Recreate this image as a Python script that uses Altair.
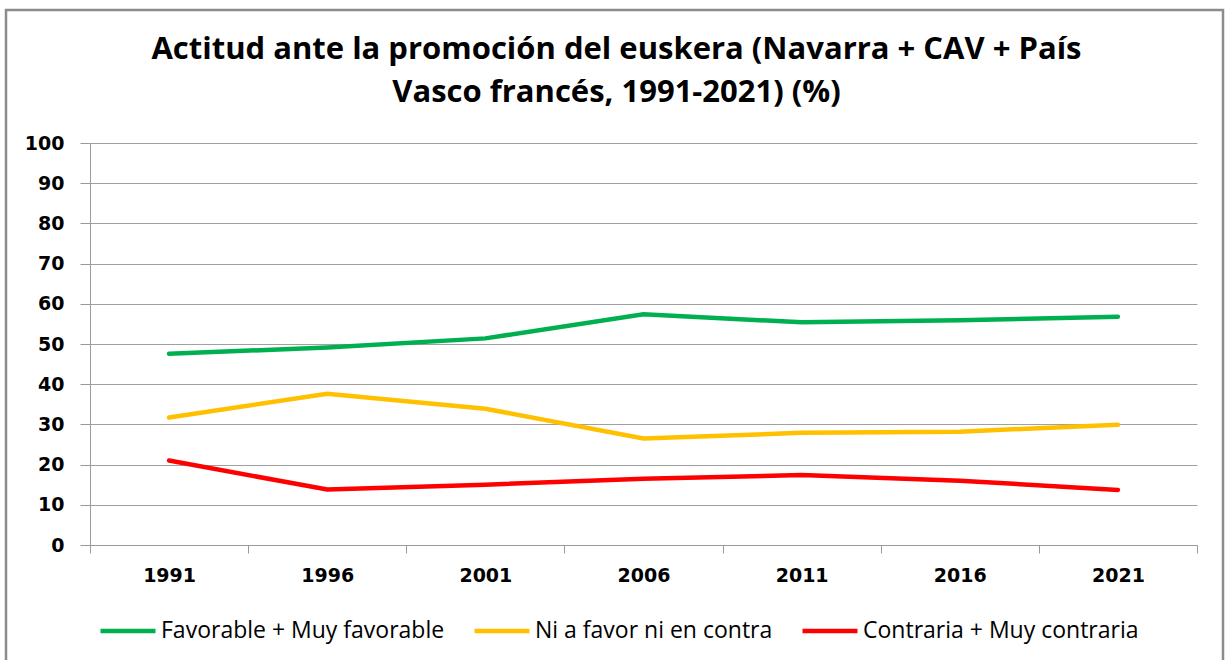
import altair as alt
import pandas as pd

years = ["1991", "1996", "2001", "2006", "2011", "2016", "2021"]
series_names = ["Favorable + Muy favorable", "Ni a favor ni en contra", "Contraria + Muy contraria"]
favorable = [47.6, 49.1, 51.4, 57.4, 55.4, 55.9, 56.8]
neutral = [31.7, 37.6, 33.9, 26.5, 27.9, 28.2, 29.9]
contraria = [21.0, 13.8, 15.0, 16.5, 17.4, 16.0, 13.7]
colors = ["#00B050", "#FFC000", "#FF0000"]
title_lines = ["Actitud ante la promoción del euskera (Navarra + CAV + País",
               "Vasco francés, 1991-2021) (%)"]

rows = []
for name, vals in zip(series_names, [favorable, neutral, contraria]):
    for y, v in zip(years, vals):
        rows.append({"Año": y, "Serie": name, "Valor": v})
df = pd.DataFrame(rows)

W, H = 1107, 402
PAD_L, PAD_T = 90, 143

frame = alt.Chart(alt.Data(values=[{}])).mark_rect(
    fill=None, stroke="#8c8c8c", strokeWidth=2.5
).encode(
    x=alt.value(6 - PAD_L), x2=alt.value(1223 - PAD_L),
    y=alt.value(10 - PAD_T), y2=alt.value(700 - PAD_T),
)

lines = alt.Chart(df).mark_line(strokeWidth=4.5, strokeCap="round").encode(
    x=alt.X("Año:O", sort=years, bandPosition=0.5,
            scale=alt.Scale(type="band", paddingInner=0, paddingOuter=0),
            axis=alt.Axis(title=None, labelAngle=0, tickBand="extent", grid=False,
                          tickSize=8, labelPadding=13, domainColor="#9a9a9a",
                          tickColor="#9a9a9a", labelFont="DejaVu Sans",
                          labelFontWeight="bold", labelFontSize=19, labelColor="#000")),
    y=alt.Y("Valor:Q", scale=alt.Scale(domain=[0, 100], nice=False),
            axis=alt.Axis(title=None, values=list(range(0, 101, 10)), tickSize=10,
                          labelPadding=16, gridColor="#a0a0a0", gridWidth=1.2,
                          domainColor="#9a9a9a", tickColor="#9a9a9a",
                          labelFont="DejaVu Sans", labelFontWeight="bold",
                          labelFontSize=19, labelColor="#000")),
    color=alt.Color("Serie:N", sort=series_names,
                    scale=alt.Scale(domain=series_names, range=colors),
                    legend=alt.Legend(title=None, orient="none", direction="horizontal",
                                      legendX=8, legendY=458,
                                      symbolType="stroke", symbolSize=3025,
                                      symbolStrokeWidth=4.5, labelFont="Open Sans",
                                      labelFontSize=23, labelColor="#000",
                                      labelOffset=3, columnPadding=20, labelLimit=600,
                                      symbolOpacity=1)),
)

chart = alt.layer(frame, lines).properties(
    width=W, height=H,
    autosize=alt.AutoSizeParams(type="none"),
    padding={"left": PAD_L, "top": PAD_T, "right": 1227 - PAD_L - W, "bottom": 660 - PAD_T - H},
    title=alt.TitleParams(text=title_lines, anchor="middle", frame="group",
                          font="Open Sans", fontSize=31, fontWeight="bold", color="#000",
                          lineHeight=43, dx=-27, offset=-131, baseline="bottom"),
    background="white",
).configure_view(stroke=None)

chart.save("out.html", embed_options={"renderer": "svg", "actions": False})
